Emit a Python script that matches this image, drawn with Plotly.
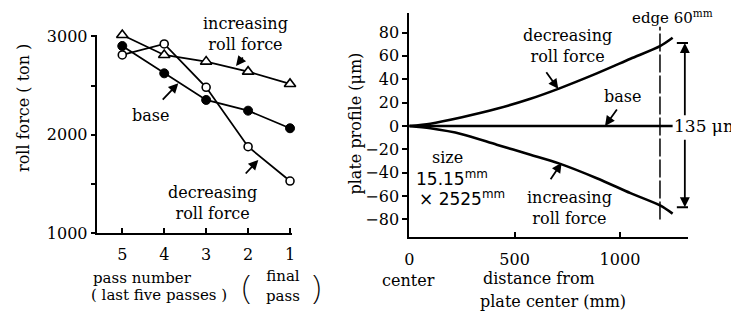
import plotly.graph_objects as go

# ---------------- data ----------------
passes = [5, 4, 3, 2, 1]
increasing_force = [3015, 2812, 2744, 2642, 2517]
base_force = [2903, 2625, 2354, 2245, 2066]
decreasing_force = [2812, 2924, 2483, 1878, 1529]

force_ticks = [1000, 1500, 2000, 2500, 3000]
force_ticktext = ["1000", "", "2000", "", "3000"]
pass_ticktext = ["5", "4", "3", "2", "1"]

distance = [0, 100, 250, 415, 575, 710, 890, 1050, 1190, 1250]
profile_decreasing = [0, 2, 7.5, 14.7, 23.3, 32, 45, 57.5, 68.3, 75.5]
profile_base = [0, 0, 0, 0, 0, 0, 0, 0, 0, 0]
profile_increasing = [0, -2, -7, -16, -24.6, -32, -44.7, -57.5, -68, -75]

profile_ticks = [-80, -60, -40, -20, 0, 20, 40, 60, 80]
distance_ticks = [0, 500, 1000]
edge_distance = 1190
span_x = 1308
span_top = 71
span_bottom = -69.5

W, H = 739, 315
OFF = 8  # page body margin
SERIF = "DejaVu Serif"
SANS = "DejaVu Sans"


def px(x):
    return (x - OFF) / W


def py(y):
    return 1 - (y - OFF) / H


fig = go.Figure()

# left panel
fig.add_trace(go.Scatter(x=passes, y=increasing_force, mode="lines+markers",
                         line=dict(color="black", width=1.8),
                         marker=dict(symbol="triangle-up", size=10, color="white",
                                     line=dict(color="black", width=1.6)),
                         xaxis="x", yaxis="y", cliponaxis=False, showlegend=False))
fig.add_trace(go.Scatter(x=passes, y=base_force, mode="lines+markers",
                         line=dict(color="black", width=1.8),
                         marker=dict(symbol="circle", size=9, color="black",
                                     line=dict(color="black", width=1)),
                         xaxis="x", yaxis="y", cliponaxis=False, showlegend=False))
fig.add_trace(go.Scatter(x=passes, y=decreasing_force, mode="lines+markers",
                         line=dict(color="black", width=1.8),
                         marker=dict(symbol="circle", size=8, color="white",
                                     line=dict(color="black", width=1.6)),
                         xaxis="x", yaxis="y", cliponaxis=False, showlegend=False))

# right panel
for prof in (profile_decreasing, profile_base, profile_increasing):
    fig.add_trace(go.Scatter(x=distance, y=prof, mode="lines",
                             line=dict(color="black", width=2.6, shape="spline", smoothing=0.8),
                             xaxis="x2", yaxis="y2", cliponaxis=False, showlegend=False))

axis_common = dict(showline=True, linecolor="black", linewidth=2, showgrid=False,
                   zeroline=False, tickcolor="black", tickwidth=1.5, automargin=False,
                   tickfont=dict(family=SERIF, size=16, color="black"))

fig.update_layout(
    template="none",
    width=W, height=H, margin=dict(l=0, r=0, t=0, b=0, pad=0, autoexpand=False),
    paper_bgcolor="white", plot_bgcolor="white",
    xaxis=dict(domain=[px(96.7), px(291.7)], range=[5.61, 0.96], anchor="y",
               tickvals=passes, ticktext=pass_ticktext, ticks="inside", ticklen=5,
               ticklabelstandoff=6, **axis_common),
    yaxis=dict(domain=[py(233), py(34.5)], range=[1000, 3020], anchor="x",
               tickvals=force_ticks, ticktext=force_ticktext, ticks="outside", ticklen=4,
               **axis_common),
    xaxis2=dict(domain=[px(409.3), px(688)], range=[0, 1323], anchor="y2",
                tickvals=distance_ticks, ticks="inside", ticklen=5,
                ticklabelstandoff=7, **axis_common),
    yaxis2=dict(domain=[py(237), py(13)], range=[-95, 96.7], anchor="x2",
                tickvals=profile_ticks, ticks="outside", ticklen=5, **axis_common),
)

# edge dashed line and 135 um span
fig.add_shape(type="line", xref="x2", yref="y2", x0=edge_distance, x1=edge_distance,
              y0=-80, y1=85, line=dict(color="black", width=1.5, dash="18px,3px"))
for yv in (span_top, span_bottom):
    fig.add_shape(type="line", xref="x2", yref="y2", x0=span_x - 38, x1=span_x + 38,
                  y0=yv, y1=yv, line=dict(color="black", width=2))

annotations = []


def arrow(x, y, ax, ay, xr, yr):
    annotations.append(dict(x=x, y=y, ax=ax, ay=ay, xref=xr, yref=yr, text="",
                            showarrow=True, arrowhead=2, arrowsize=1.1,
                            arrowwidth=1.8, arrowcolor="black", standoff=0))


arrow(3.664, 2524, -17, 18, "x", "y")
arrow(2.288, 2700, 8, -10, "x", "y")
arrow(1.756, 1743, -14, 15, "x", "y")
arrow(707, 31.8, -13, -18, "x2", "y2")
arrow(929, 0, 13, -18, "x2", "y2")
arrow(723, -31.5, -12, 18, "x2", "y2")

# double arrow (135 um)
annotations.append(dict(x=span_x, y=span_top, ax=span_x, ay=8, xref="x2", yref="y2",
                        axref="x2", ayref="y2", text="", showarrow=True, arrowhead=2,
                        arrowsize=1.1, arrowwidth=1.8, arrowcolor="black", standoff=0))
annotations.append(dict(x=span_x, y=span_bottom, ax=span_x, ay=-10.5, xref="x2", yref="y2",
                        axref="x2", ayref="y2", text="", showarrow=True, arrowhead=2,
                        arrowsize=1.1, arrowwidth=1.8, arrowcolor="black", standoff=0))


def label(text, x, y, size=16, xanchor="center", family=SERIF, angle=0, align="center",
          weight="normal"):
    annotations.append(dict(text=text, x=px(x), y=py(y), xref="paper", yref="paper",
                            showarrow=False, xanchor=xanchor, yanchor="middle",
                            align=align, textangle=angle,
                            font=dict(family=family, size=size, color="black", weight=weight)))


# left panel texts
label("increasing<br>roll force", 245, 33.5)
label("base", 150, 115)
label("decreasing<br>roll force", 212.5, 203)
label("pass number", 91, 277.5, size=15, xanchor="left")
label("( last five passes )", 89, 295, size=15, xanchor="left")
label("(", 246, 286, size=34, family="Noto Sans", weight=200)
label("final<br>pass", 283, 286, size=15)
label(")", 316, 286, size=34, family="Noto Sans", weight=200)
label("roll force ( ton )", 23, 108, angle=-90)

# right panel texts
label("edge 60<sup>mm</sup>", 672, 17, size=15)
label("decreasing<br>roll force", 567, 45.5)
label("base", 622, 96)
label("135 μm", 672, 126, size=17, xanchor="left")
label("size", 448, 157)
label("15.15<sup>mm</sup>", 414, 177.5, size=17, xanchor="left", family=SANS)
label("× 2525<sup>mm</sup>", 417, 197.5, size=17, xanchor="left", family=SANS)
label("increasing<br>roll force", 569, 208)
label("center", 408, 280)
label("distance from", 539, 278)
label("plate center (mm)", 553, 301)
label("plate profile (μm)", 355, 123.5, angle=-90)

fig.update_layout(annotations=annotations)

fig.write_html("out.html")
